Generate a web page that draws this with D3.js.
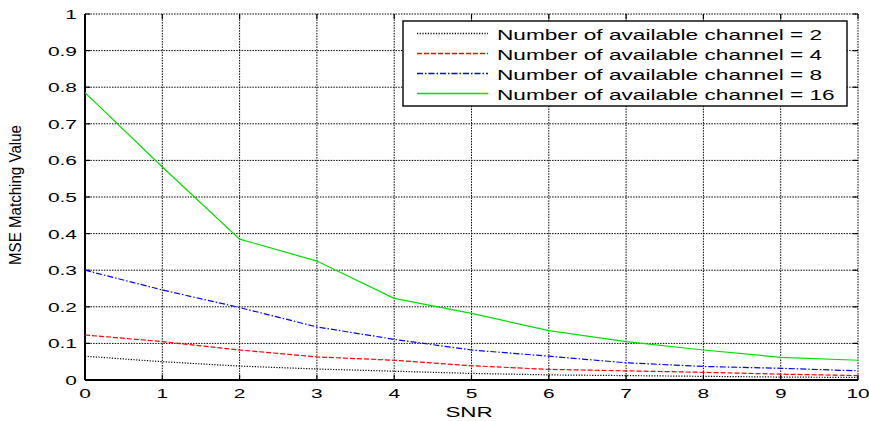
<!DOCTYPE html>
<html>
<head>
<meta charset="utf-8">
<script src="https://cdn.jsdelivr.net/npm/d3@7"></script>
<style>
  body { margin: 0; background: #fff; }
  text { font-family: "Liberation Sans", Arial, sans-serif; fill: #000; }
</style>
</head>
<body>
<script>
(function () {
	"use strict";

	var w = 869, h = 421;

	// data
	var snr = [0, 1, 2, 3, 4, 5, 6, 7, 8, 9, 10];
	var ch2 = [0.065, 0.050, 0.038, 0.030, 0.024, 0.018, 0.014, 0.012, 0.010, 0.008, 0.007];
	var ch4 = [0.123, 0.105, 0.082, 0.063, 0.054, 0.039, 0.029, 0.025, 0.021, 0.016, 0.012];
	var ch8 = [0.300, 0.246, 0.198, 0.145, 0.111, 0.082, 0.065, 0.047, 0.037, 0.032, 0.025];
	var ch16 = [0.785, 0.582, 0.385, 0.325, 0.223, 0.182, 0.135, 0.105, 0.082, 0.062, 0.054];
	var seriesNames = [
		"Number of available channel = 2",
		"Number of available channel = 4",
		"Number of available channel = 8",
		"Number of available channel = 16"
	];
	var xTicks = [0, 1, 2, 3, 4, 5, 6, 7, 8, 9, 10];
	var yTicks = [0, 0.1, 0.2, 0.3, 0.4, 0.5, 0.6, 0.7, 0.8, 0.9, 1];

	var series = [
		{ name: seriesNames[0], values: ch2, color: "#000000", dash: "1.2,1.5" },
		{ name: seriesNames[1], values: ch4, color: "#ff0000", dash: "5,2" },
		{ name: seriesNames[2], values: ch8, color: "#0000ff", dash: "6,2,1.5,2" },
		{ name: seriesNames[3], values: ch16, color: "#00e000", dash: null }
	];

	// picture is stretched sideways, so the text is too
	var sxTick = 1.55, sxLeg = 1.51, sxTitle = 1.6;

	var left = 85, right = 858, top = 14, bottom = 380;

	var x = d3.scaleLinear().domain([0, 10]).range([left, right]);
	var y = d3.scaleLinear().domain([0, 1]).range([bottom, top]);

	var svg = d3.select("body").append("svg")
		.attr("width", w)
		.attr("height", h);

	// grid
	svg.append("g").selectAll("line")
		.data(xTicks.slice(1))
		.enter().append("line")
		.attr("x1", (d) => x(d)).attr("x2", (d) => x(d))
		.attr("y1", top).attr("y2", bottom)
		.attr("stroke", "#000").attr("stroke-width", 1)
		.attr("stroke-dasharray", "1.5,1.2");

	svg.append("g").selectAll("line")
		.data(yTicks.slice(1))
		.enter().append("line")
		.attr("y1", (d) => y(d)).attr("y2", (d) => y(d))
		.attr("x1", left).attr("x2", right)
		.attr("stroke", "#000").attr("stroke-width", 1)
		.attr("stroke-dasharray", "1.5,1.2");

	// inward ticks
	var tk = svg.append("g").attr("stroke", "#000").attr("stroke-width", 1.2);
	xTicks.forEach(function (d) {
		tk.append("line").attr("x1", x(d)).attr("x2", x(d)).attr("y1", bottom).attr("y2", bottom - 5);
		tk.append("line").attr("x1", x(d)).attr("x2", x(d)).attr("y1", top).attr("y2", top + 5);
	});
	yTicks.forEach(function (d) {
		tk.append("line").attr("y1", y(d)).attr("y2", y(d)).attr("x1", left).attr("x2", left + 5);
		tk.append("line").attr("y1", y(d)).attr("y2", y(d)).attr("x1", right).attr("x2", right - 5);
	});

	// axes lines
	svg.append("line").attr("x1", left).attr("x2", left).attr("y1", top).attr("y2", bottom)
		.attr("stroke", "#000").attr("stroke-width", 2);
	svg.append("line").attr("x1", left).attr("x2", right).attr("y1", bottom).attr("y2", bottom)
		.attr("stroke", "#000").attr("stroke-width", 2);

	// tick labels
	svg.append("g").selectAll("text")
		.data(xTicks)
		.enter().append("text")
		.attr("transform", (d) => "translate(" + x(d) + ",398) scale(" + sxTick + ",1)")
		.attr("text-anchor", "middle")
		.style("font-size", "13.5px")
		.text((d) => d);

	svg.append("g").selectAll("text")
		.data(yTicks)
		.enter().append("text")
		.attr("transform", (d) => "translate(77," + (y(d) + 5) + ") scale(" + sxTick + ",1)")
		.attr("text-anchor", "end")
		.style("font-size", "13.5px")
		.text((d) => d);

	// axis titles
	svg.append("text")
		.attr("transform", "translate(469,417) scale(" + sxTitle + ",1)")
		.attr("text-anchor", "middle")
		.style("font-size", "14px")
		.text("SNR");

	svg.append("text")
		.attr("transform", "translate(21,195) rotate(-90) scale(1,1.12)")
		.attr("text-anchor", "middle")
		.attr("textLength", 140)
		.attr("lengthAdjust", "spacingAndGlyphs")
		.style("font-size", "14px")
		.text("MSE Matching Value");

	// series
	var line = d3.line()
		.x((d, i) => x(snr[i]))
		.y((d) => y(d));

	svg.append("g").selectAll("path")
		.data(series)
		.enter().append("path")
		.attr("d", (s) => line(s.values))
		.attr("fill", "none")
		.attr("stroke", (s) => s.color)
		.attr("stroke-width", 1.2)
		.attr("stroke-dasharray", (s) => s.dash);

	// legend
	var lg = svg.append("g");
	lg.append("rect")
		.attr("x", 403).attr("y", 21)
		.attr("width", 444).attr("height", 85)
		.attr("fill", "#fff").attr("stroke", "#000").attr("stroke-width", 1.4);

	series.forEach(function (s, i) {
		var yy = 33.5 + i * 20;
		lg.append("line")
			.attr("x1", 417).attr("x2", 488)
			.attr("y1", yy).attr("y2", yy)
			.style("stroke", s.color)
			.style("stroke-width", 1.4)
			.style("stroke-dasharray", s.dash);

		lg.append("text")
			.attr("transform", "translate(497," + (yy + 6.5) + ") scale(" + sxLeg + ",1)")
			.style("font-size", "15px")
			.text(s.name);
	});
})();
</script>
</body>
</html>
